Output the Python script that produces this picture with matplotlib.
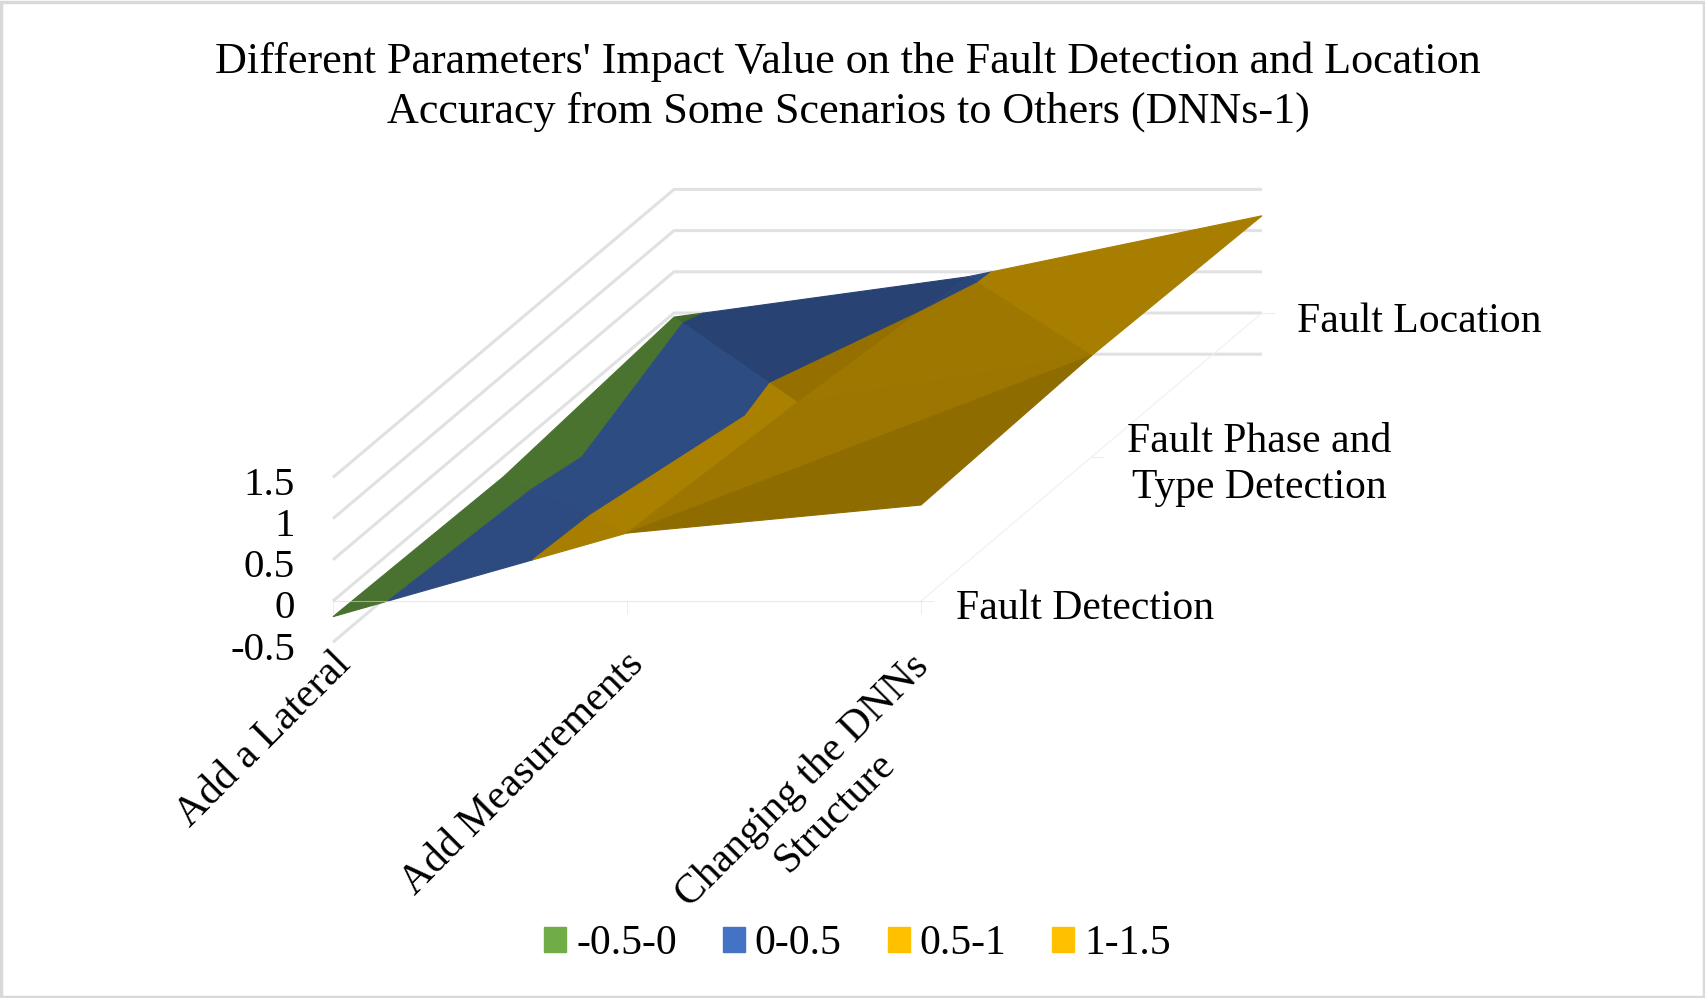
import numpy as np
import matplotlib
matplotlib.use("Agg")
import matplotlib.pyplot as plt
from matplotlib.patches import Patch, Rectangle

categories = ["Add a Lateral", "Add Measurements", "Changing the DNNs\nStructure"]
series_names = ["Fault Detection", "Fault Phase and\nType Detection", "Fault Location"]
fault_detection = [-0.19, 0.825, 1.165]
fault_phase_type = [-0.24, 0.66, 1.23]
fault_location = [-0.05, 0.44, 1.18]
z_levels = [-0.5, 0, 0.5, 1, 1.5]
z_labels = ["-0.5", "0", "0.5", "1", "1.5"]
band_labels = ["-0.5-0", "0-0.5", "0.5-1", "1-1.5"]
band_colors = ["#70AD47", "#4472C4", "#FFC000", "#FFC000"]

values = np.array([fault_detection, fault_phase_type, fault_location])

plt.rcParams['font.family'] = ['Liberation Serif']

# oblique view of the chart box, in pixels
origin = np.array([333.0, 601.0])
step_cat = np.array([294.0, 0.0])
step_ser = np.array([170.5, -144.0])
step_z = np.array([0.0, -82.4])


def project(c, s, z):
    return origin + c * step_cat + s * step_ser + z * step_z


def clip_band(tri, lo, hi):
    # Sutherland-Hodgman on z, once for each limit
    poly = list(tri)
    for limit, sign in ((lo, 1), (hi, -1)):
        out = []
        for k in range(len(poly)):
            a, b = poly[k], poly[(k + 1) % len(poly)]
            da, db = sign * (a[2] - limit), sign * (b[2] - limit)
            if da >= 0:
                out.append(a)
            if da * db < 0:
                t = da / (da - db)
                out.append(tuple(a[n] + t * (b[n] - a[n]) for n in range(3)))
        poly = out
        if not poly:
            break
    return poly


fig = plt.figure(figsize=(17.06, 9.98), dpi=100)
ax = fig.add_axes([0, 0, 1, 1])
ax.set_xlim(0, 1706)
ax.set_ylim(998, 0)
ax.axis("off")

ax.add_patch(Rectangle((1.5, 1.5), 1703, 995, fill=False, ec="#D9D9D9", lw=2.5))

# walls
for z in z_levels:
    pts = np.array([project(0, 0, z), project(0, 2, z), project(2, 2, z)])
    ax.plot(pts[:, 0], pts[:, 1], color="#E1E1E1", lw=2.2, solid_capstyle="butt", zorder=1)

# floor lines and ticks
floor = np.array([project(2, 0, 0), project(2, 2, 0)])
ax.plot(floor[:, 0], floor[:, 1], color="#F0F0F0", lw=0.8, zorder=1)
for s in range(3):
    p = project(2, s, 0)
    ax.plot([p[0], p[0] + 12], [p[1], p[1]], color="#EDEDED", lw=0.8, zorder=1)

# triangles as Excel split them: three grid corners and a shade
triangles = [
    ((1, 1), (1, 2), (0, 2), 0.585),
    ((0, 1), (1, 1), (0, 2), 0.665),
    ((2, 1), (2, 2), (1, 2), 0.655),
    ((1, 1), (2, 1), (1, 2), 0.618),
    ((1, 0), (1, 1), (0, 1), 0.665),
    ((0, 0), (1, 0), (0, 1), 0.655),
    ((1, 0), (2, 1), (1, 1), 0.612),
    ((1, 0), (2, 0), (2, 1), 0.56),
]
for c1, c2, c3, shade in triangles:
    tri = [(c, s, values[s, c]) for c, s in (c1, c2, c3)]
    for b in range(len(band_labels)):
        poly = clip_band(tri, z_levels[b], z_levels[b + 1])
        if len(poly) < 3:
            continue
        xy = np.array([project(*p) for p in poly])
        rgb = np.array(matplotlib.colors.to_rgb(band_colors[b])) * shade
        ax.fill(xy[:, 0], xy[:, 1], color=rgb, lw=0.8, zorder=2)

# front axis sits over the surface
front = np.array([project(0, 0, 0), project(2, 0, 0)])
ax.plot(front[:, 0], front[:, 1], color="#D9D9D9", lw=0.8, alpha=0.6, zorder=3)
for c in range(3):
    p = project(c, 0, 0)
    ax.plot([p[0], p[0]], [p[1], p[1] + 12], color="#EDEDED", lw=0.8, zorder=1)

ax.text(848, 86.5, "Different Parameters' Impact Value on the Fault Detection and Location\n"
        "Accuracy from Some Scenarios to Others (DNNs-1)",
        ha="center", va="center", fontsize=31.8, color="black", linespacing=1.31)

for z, lab in zip(z_levels, z_labels):
    p = project(0, 0, z)
    ax.text(295, p[1] + 8, lab, ha="right", va="center", fontsize=29.5)

cat_pos = [(264, 740), (523, 774), (819, 797)]
for lab, pos in zip(categories, cat_pos):
    ax.text(pos[0], pos[1], lab, rotation=45, rotation_mode="anchor", ha="center", va="center",
            multialignment="center", fontsize=30, linespacing=1.24)

ser_pos = [(1085, 609), (1259, 465), (1419, 322)]
for lab, pos in zip(series_names, ser_pos):
    ax.text(pos[0], pos[1], lab, ha="center", va="center", multialignment="center",
            fontsize=30, linespacing=1.24)

handles = [Patch(color=c, label=l) for c, l in zip(band_colors, band_labels)]
ax.legend(handles=handles, ncol=4, loc="center", bbox_to_anchor=((853 + 4.5) / 1706, 1 - 944 / 998),
          frameon=False, fontsize=30, handlelength=0.53, handleheight=0.53,
          handletextpad=0.24, columnspacing=1.1, borderpad=0)

fig.savefig("out.png", dpi=100)
